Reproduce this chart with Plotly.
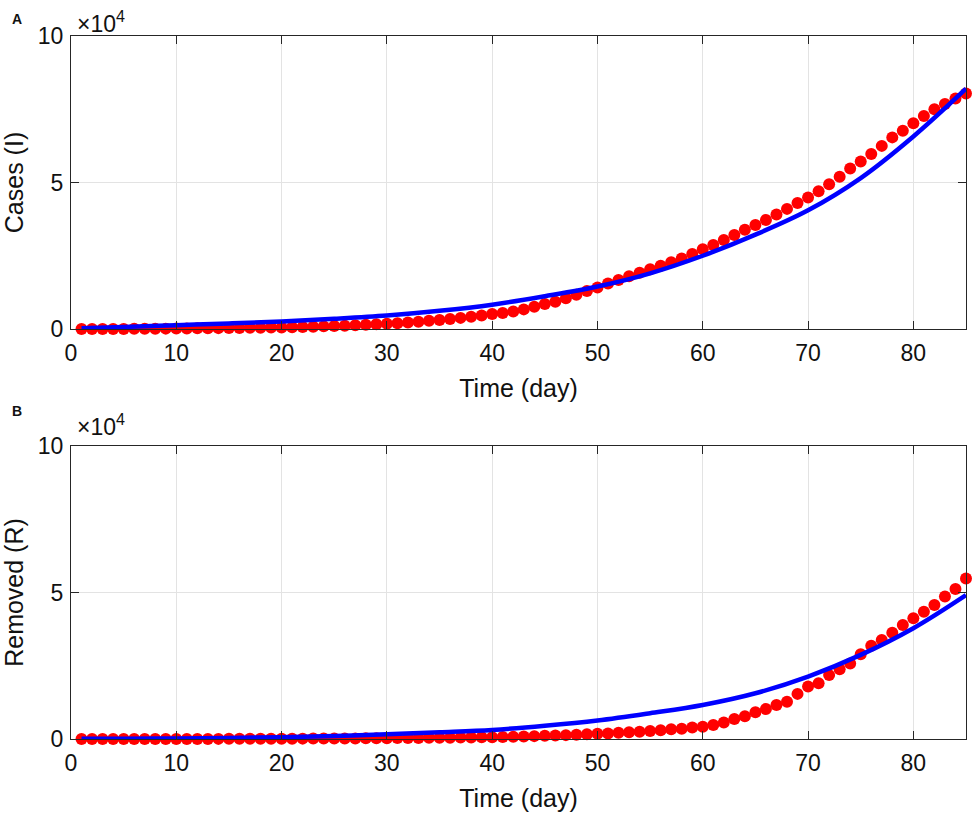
import plotly.graph_objects as go

# ── Data ──────────────────────────────────────────────────────────────────────
days = list(range(1, 86))

cases_obs = [
    0, 10, 20, 30, 40, 60, 80, 100, 130, 160,
    190, 220, 260, 300, 340, 380, 420, 460, 500, 550,
    600, 700, 800, 900, 1000, 1150, 1300, 1450, 1600, 1800,
    2000, 2250, 2500, 2800, 3100, 3400, 3800, 4200, 4600, 5100,
    5500, 6000, 6700, 7600, 8500, 9300, 10500, 11700, 13000, 14200,
    15500, 16700, 18000, 19200, 20400, 21600, 22800, 24100, 25600, 27200,
    28700, 30400, 32100, 33900, 35500, 37200, 39100, 41000, 43000, 44900,
    47000, 49400, 52000, 54800, 57200, 59700, 62500, 65400, 67700, 70200,
    72700, 75000, 76800, 78700, 80400,
]

removed_obs = [
    0, 0, 0, 0, 5, 5, 10, 10, 15, 20,
    25, 30, 35, 40, 50, 60, 70, 80, 90, 100,
    110, 125, 140, 155, 170, 190, 210, 230, 250, 275,
    300, 330, 360, 390, 420, 450, 490, 530, 570, 620,
    680, 760, 860, 980, 1100, 1200, 1320, 1480, 1650, 1800,
    1900, 2100, 2300, 2500, 2700, 3000, 3300, 3500, 3900, 4200,
    4800, 5600, 6800, 7800, 9100, 10200, 11600, 12700, 15400, 17900,
    19000, 21800, 23800, 25800, 28900, 31800, 33800, 36300, 38900, 41200,
    43400, 45700, 48600, 51200, 54800,
]

fit_days = [1, 5, 10, 15, 20, 25, 30, 35, 40, 45, 50, 55, 60, 65, 70, 75, 80, 85]
cases_fit = [300, 700, 1300, 1900, 2600, 3500, 4600, 6200, 8300, 11200,
             14500, 19000, 25000, 32200, 40500, 51500, 65700, 82000]
removed_fit = [50, 100, 200, 350, 600, 1000, 1600, 2300, 3100, 4500,
               6300, 8800, 11600, 15600, 21300, 28700, 37800, 49100]

x_ticks = [0, 10, 20, 30, 40, 50, 60, 70, 80]
y_ticks = [0, 50000, 100000]
y_tick_text = ["0", "5", "10"]

# ── Style ─────────────────────────────────────────────────────────────────────
FONT = "Arial, Liberation Sans, sans-serif"
AXIS_COL = "#262626"
GRID_COL = "#e3e3e3"
TEXT_COL = "#111111"

fig = go.Figure()

for obs, fit, xa, ya in [(cases_obs, cases_fit, "x", "y"),
                         (removed_obs, removed_fit, "x2", "y2")]:
    fig.add_trace(go.Scatter(x=days, y=obs, mode="markers", xaxis=xa, yaxis=ya,
                             marker=dict(color="#ff0000", size=12, line_width=0),
                             cliponaxis=False, showlegend=False))
    fig.add_trace(go.Scatter(x=fit_days, y=fit, mode="lines", xaxis=xa, yaxis=ya,
                             line=dict(color="#0000ff", width=4.5, shape="spline"),
                             cliponaxis=False, showlegend=False))

xcommon = dict(range=[0, 85], tickvals=x_ticks, ticks="inside", ticklen=8,
               tickcolor=AXIS_COL, showline=True, linecolor=AXIS_COL, linewidth=1,
               mirror="ticks", showgrid=True, gridcolor=GRID_COL, zeroline=False,
               tickfont=dict(size=23, color=TEXT_COL), ticklabelstandoff=3,
               automargin=False,
               title=dict(text="Time (day)", font=dict(size=25, color=TEXT_COL),
                          standoff=14))
ycommon = dict(range=[0, 100000], tickvals=y_ticks, ticktext=y_tick_text,
               ticks="inside", ticklen=8, tickcolor=AXIS_COL, showline=True,
               linecolor=AXIS_COL, linewidth=1, mirror="ticks", showgrid=True,
               gridcolor=GRID_COL, zeroline=False, automargin=False,
               tickfont=dict(size=23, color=TEXT_COL), ticklabelstandoff=2)

fig.update_layout(
    width=976, height=818,
    margin=dict(l=71, r=10, t=36, b=79),
    paper_bgcolor="white", plot_bgcolor="white",
    font=dict(family=FONT, color=TEXT_COL),
    xaxis=dict(xcommon, domain=[0, 1], anchor="y"),
    yaxis=dict(ycommon, domain=[0.5832, 1], anchor="x",
               title=dict(text="Cases (I)", font=dict(size=25), standoff=10)),
    xaxis2=dict(xcommon, domain=[0, 1], anchor="y2"),
    yaxis2=dict(ycommon, domain=[0, 0.4168], anchor="x2",
                title=dict(text="Removed (R)", font=dict(size=25), standoff=10)),
)

# panel letters and exponent labels
for letter, ly, ey in [("A", 1.024, 1.020), ("B", 0.4666, 0.4467)]:
    fig.add_annotation(text=f"<b>{letter}</b>", xref="paper", yref="paper",
                       x=-0.0603, y=ly, xanchor="center", yanchor="middle",
                       showarrow=False, font=dict(size=14, color=TEXT_COL))
    fig.add_annotation(text="×10<sup>4</sup>", xref="paper", yref="paper",
                       x=0.0045, y=ey, xanchor="left", yanchor="middle",
                       showarrow=False, font=dict(size=23, color=TEXT_COL))

# drop the default 8px page margin so the figure sits at the window's corner
fig.write_html("out.html", config={"displayModeBar": False},
               post_script="document.body.style.margin = '0';")
